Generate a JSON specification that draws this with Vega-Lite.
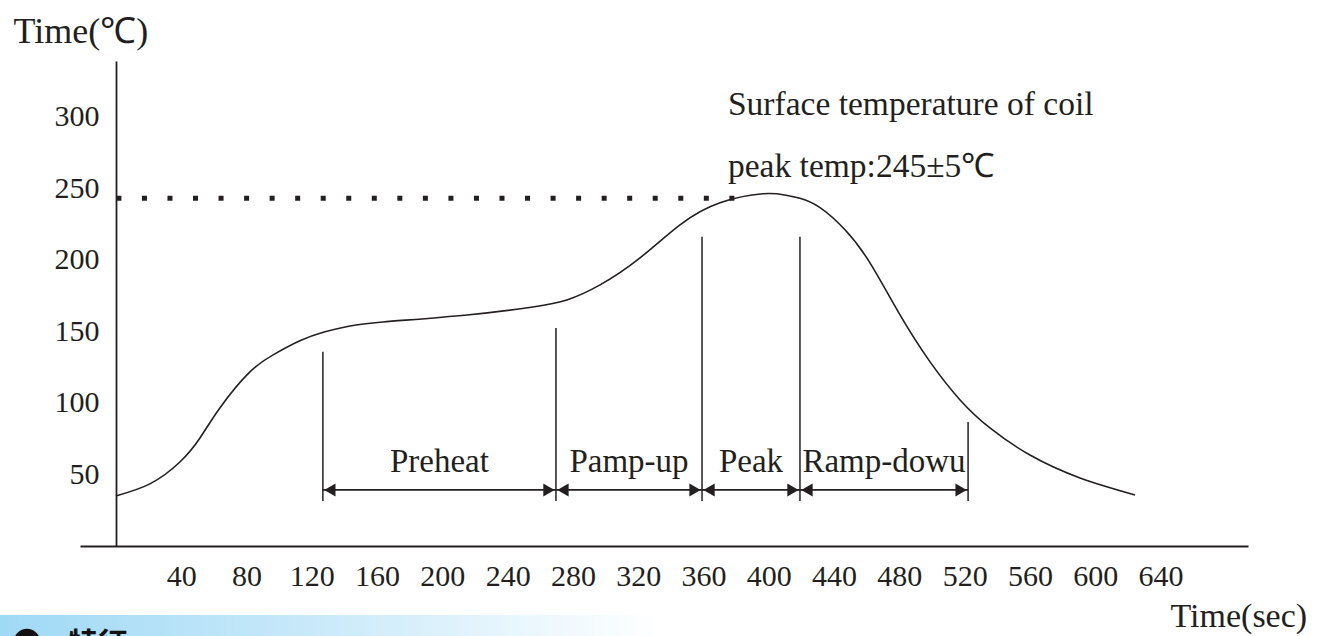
{
  "$schema": "https://vega.github.io/schema/vega-lite/v6.json",
  "width": 1168,
  "height": 485,
  "autosize": {"type": "none"},
  "padding": {"left": 80, "top": 61, "right": 84, "bottom": 90},
  "background": "white",
  "config": {"view": {"stroke": null}, "font": "Liberation Serif"},
  "datasets": {
    "curve": [
      {"t": 0, "temp": 35.0},
      {"t": 20.8, "temp": 43.4},
      {"t": 39.2, "temp": 58.7},
      {"t": 51.5, "temp": 75.5},
      {"t": 63.7, "temp": 96.5},
      {"t": 82.1, "temp": 121.7},
      {"t": 97.4, "temp": 134.3},
      {"t": 112.7, "temp": 143.4},
      {"t": 128.1, "temp": 149.7},
      {"t": 143.4, "temp": 153.8},
      {"t": 163.6, "temp": 156.6},
      {"t": 215.1, "temp": 161.5},
      {"t": 255.5, "temp": 167.1},
      {"t": 276.3, "temp": 172.0},
      {"t": 296.6, "temp": 182.5},
      {"t": 321.1, "temp": 201.4},
      {"t": 345.6, "temp": 224.5},
      {"t": 370.1, "temp": 239.9},
      {"t": 396.4, "temp": 246.2},
      {"t": 409.9, "temp": 245.3},
      {"t": 419.1, "temp": 243.0},
      {"t": 431.4, "temp": 236.5},
      {"t": 446.7, "temp": 221.0},
      {"t": 462.0, "temp": 197.9},
      {"t": 480.4, "temp": 161.5},
      {"t": 498.8, "temp": 128.7},
      {"t": 517.2, "temp": 102.1},
      {"t": 535.5, "temp": 82.5},
      {"t": 560.0, "temp": 63.6},
      {"t": 590.7, "temp": 47.6},
      {"t": 624.4, "temp": 35.7}
    ],
    "markers": [
      {"t": 126.8, "top": 135.7},
      {"t": 269.6, "top": 152.4},
      {"t": 359.1, "top": 216.1},
      {"t": 419.1, "top": 216.1},
      {"t": 522.1, "top": 86.7}
    ],
    "phases": [
      {"phase": "Preheat", "start": 126.8, "end": 269.6},
      {"phase": "Pamp-up", "start": 269.6, "end": 359.1},
      {"phase": "Peak", "start": 359.1, "end": 419.1},
      {"phase": "Ramp-dowu", "start": 419.1, "end": 522.1}
    ],
    "peakline": [{"t0": 0.3, "t1": 379, "temp": 243}],
    "notes": [
      {"note": "Surface temperature of coil", "t": 375, "temp": 301.4},
      {"note": "peak  temp:245±5℃", "t": 375, "temp": 258}
    ],
    "heading": [{"label": "特征"}]
  },
  "layer": [
    {
      "data": {"name": "curve"},
      "mark": {"type": "line", "interpolate": "natural", "color": "#231f20", "strokeWidth": 1.6},
      "encoding": {
        "x": {
          "field": "t", "type": "quantitative",
          "scale": {"domain": [-22, 693.6], "nice": false, "zero": false},
          "axis": {
            "values": [40, 80, 120, 160, 200, 240, 280, 320, 360, 400, 440, 480, 520, 560, 600, 640],
            "domain": true, "domainColor": "#231f20", "domainWidth": 1.8,
            "ticks": false, "grid": false,
            "labelFont": "Liberation Serif", "labelFontSize": 30, "labelColor": "#231f20",
            "labelPadding": 15, "labelDx": 6, "labelFlush": false, "labelOverlap": false,
            "title": "Time(sec)", "titleFont": "Liberation Serif", "titleFontSize": 34,
            "titleFontWeight": "normal", "titleColor": "#231f20",
            "titleX": 1090, "titleY": 80, "titleAlign": "left", "titleBaseline": "alphabetic"
          }
        },
        "y": {
          "field": "temp", "type": "quantitative",
          "scale": {"domain": [0, 339], "nice": false},
          "axis": {
            "values": [50, 100, 150, 200, 250, 300],
            "offset": -36,
            "domain": true, "domainColor": "#231f20", "domainWidth": 1.8,
            "ticks": false, "grid": false,
            "labelFont": "Liberation Serif", "labelFontSize": 30, "labelColor": "#231f20",
            "labelPadding": 17, "labelFlush": false, "labelOverlap": false,
            "title": "Time(℃)", "titleFont": "Liberation Serif", "titleFontSize": 36,
            "titleFontWeight": "normal", "titleColor": "#231f20", "titleAngle": 0,
            "titleX": -103, "titleY": -19, "titleAlign": "left", "titleBaseline": "alphabetic"
          }
        }
      }
    },
    {
      "data": {"name": "peakline"},
      "mark": {"type": "rule", "color": "#231f20", "strokeWidth": 5, "strokeDash": [5, 20.54], "strokeCap": "butt"},
      "encoding": {
        "x": {"field": "t0", "type": "quantitative"},
        "x2": {"field": "t1"},
        "y": {"field": "temp", "type": "quantitative"}
      }
    },
    {
      "data": {"name": "markers"},
      "mark": {"type": "rule", "color": "#231f20", "strokeWidth": 1.5},
      "encoding": {
        "x": {"field": "t", "type": "quantitative"},
        "y": {"field": "top", "type": "quantitative"},
        "y2": {"datum": 31.5}
      }
    },
    {
      "data": {"name": "phases"},
      "mark": {"type": "rule", "color": "#231f20", "strokeWidth": 1.8},
      "encoding": {
        "x": {"field": "start", "type": "quantitative"},
        "x2": {"field": "end"},
        "y": {"datum": 39.2, "type": "quantitative"}
      }
    },
    {
      "data": {"name": "phases"},
      "mark": {"type": "point", "shape": "triangle-left", "filled": true, "color": "#231f20", "size": 170, "opacity": 1, "xOffset": 7},
      "encoding": {
        "x": {"field": "start", "type": "quantitative"},
        "y": {"datum": 39.2, "type": "quantitative"}
      }
    },
    {
      "data": {"name": "phases"},
      "mark": {"type": "point", "shape": "triangle-right", "filled": true, "color": "#231f20", "size": 170, "opacity": 1, "xOffset": -7},
      "encoding": {
        "x": {"field": "end", "type": "quantitative"},
        "y": {"datum": 39.2, "type": "quantitative"}
      }
    },
    {
      "data": {"name": "phases"},
      "transform": [{"calculate": "(datum.start + datum.end) / 2", "as": "mid"}],
      "mark": {"type": "text", "font": "Liberation Serif", "fontSize": 33, "color": "#231f20", "align": "center", "baseline": "alphabetic"},
      "encoding": {
        "x": {"field": "mid", "type": "quantitative"},
        "y": {"datum": 51.7, "type": "quantitative"},
        "text": {"field": "phase"}
      }
    },
    {
      "data": {"name": "notes"},
      "mark": {"type": "text", "font": "Liberation Serif", "fontSize": 33.5, "color": "#231f20", "align": "left", "baseline": "alphabetic"},
      "encoding": {
        "x": {"field": "t", "type": "quantitative"},
        "y": {"field": "temp", "type": "quantitative"},
        "text": {"field": "note"}
      }
    },
    {
      "data": {"name": "heading"},
      "mark": {
        "type": "rect",
        "color": {
          "gradient": "linear", "x1": 0, "y1": 0, "x2": 1, "y2": 0,
          "stops": [
            {"offset": 0, "color": "#a0d9f5"},
            {"offset": 0.5, "color": "#cbeafa"},
            {"offset": 1, "color": "#ffffff"}
          ]
        }
      },
      "encoding": {
        "x": {"datum": -71.1, "type": "quantitative"},
        "x2": {"datum": 333.3},
        "y": {"datum": -48.3, "type": "quantitative"},
        "y2": {"datum": -70}
      }
    },
    {
      "data": {"name": "heading"},
      "mark": {"type": "point", "shape": "circle", "filled": true, "color": "#111111", "opacity": 1, "size": 700},
      "encoding": {
        "x": {"datum": -54.5, "type": "quantitative"},
        "y": {"datum": -67.1, "type": "quantitative"}
      }
    },
    {
      "data": {"name": "heading"},
      "mark": {"type": "text", "font": "Noto Sans CJK SC", "fontWeight": "bold", "fontSize": 30, "color": "#111111", "align": "left", "baseline": "alphabetic"},
      "encoding": {
        "x": {"datum": -29.4, "type": "quantitative"},
        "y": {"datum": -75.5, "type": "quantitative"},
        "text": {"field": "label"}
      }
    }
  ]
}
